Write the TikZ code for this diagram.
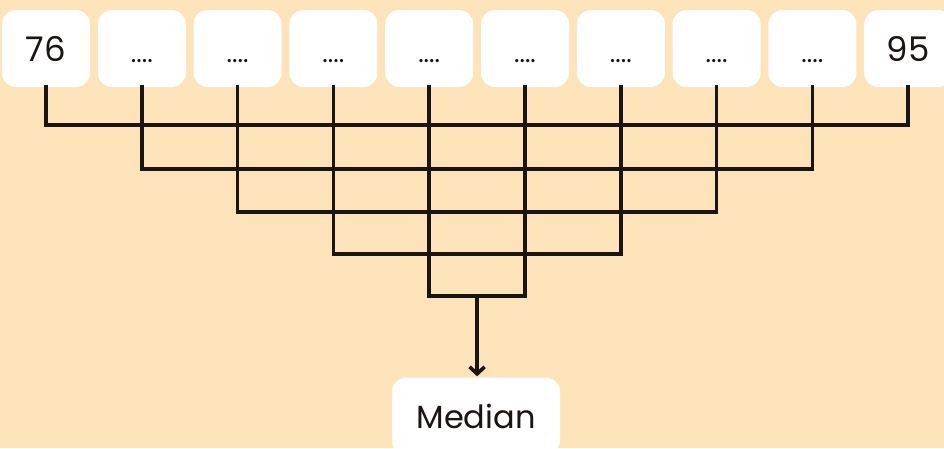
\documentclass[tikz,border=0pt]{standalone}
\usepackage{fontspec}
\setmainfont{Poppins}
\usetikzlibrary{arrows.meta,calc}
\definecolor{bg}{HTML}{FDE3B9}
\definecolor{ink}{HTML}{1A1412}
\tikzset{
  valbox/.style={draw=none, fill=white, rounded corners=14pt, minimum width=88pt, minimum height=77pt, inner sep=0pt, font=\fontsize{34}{34}\selectfont, text=ink, anchor=center},
  link/.style={draw=ink, line width=3.6pt, line cap=rect, line join=miter},
}
\newcommand{\dotsfill}{{\fontsize{26}{26}\selectfont\raisebox{-3pt}{....}}}
\begin{document}
\begin{tikzpicture}[x=1pt,y=-1pt]
\fill[bg] (0,0) rectangle (944,448);
\useasboundingbox (0,0) rectangle (944,448);
\foreach \i/\t in {1/76,2/\dotsfill,3/\dotsfill,4/\dotsfill,5/\dotsfill,6/\dotsfill,7/\dotsfill,8/\dotsfill,9/\dotsfill,10/95}{
  \node[valbox] (b\i) at ({46+95.8*(\i-1)},48.5) {\vphantom{76}\t};
}
\node[valbox, minimum width=168pt, font=\fontsize{32}{32}\selectfont] (med) at (476,416) {Median};
\coordinate (y1) at (0,125);
\coordinate (y2) at (0,169);
\coordinate (y3) at (0,212);
\coordinate (y4) at (0,254);
\coordinate (y5) at (0,296);
\draw[link] (b1.south) -- (b1.south |- y1) -- (b10.south |- y1) -- (b10.south);
\draw[link] (b2.south) -- (b2.south |- y2) -- (b9.south |- y2) -- (b9.south);
\draw[link] (b3.south) -- (b3.south |- y3) -- (b8.south |- y3) -- (b8.south);
\draw[link] (b4.south) -- (b4.south |- y4) -- (b7.south |- y4) -- (b7.south);
\draw[link] (b5.south) -- (b5.south |- y5) -- (b6.south |- y5) -- (b6.south);
\coordinate (mid) at ($(b5.south |- y5)!0.5!(b6.south |- y5)$);
\draw[link, line cap=butt, -{Straight Barb[length=7pt,width=15pt,line width=3.6pt]}] (mid) -- ($(mid |- med.north)+(0,-1)$);
\end{tikzpicture}
\end{document}
